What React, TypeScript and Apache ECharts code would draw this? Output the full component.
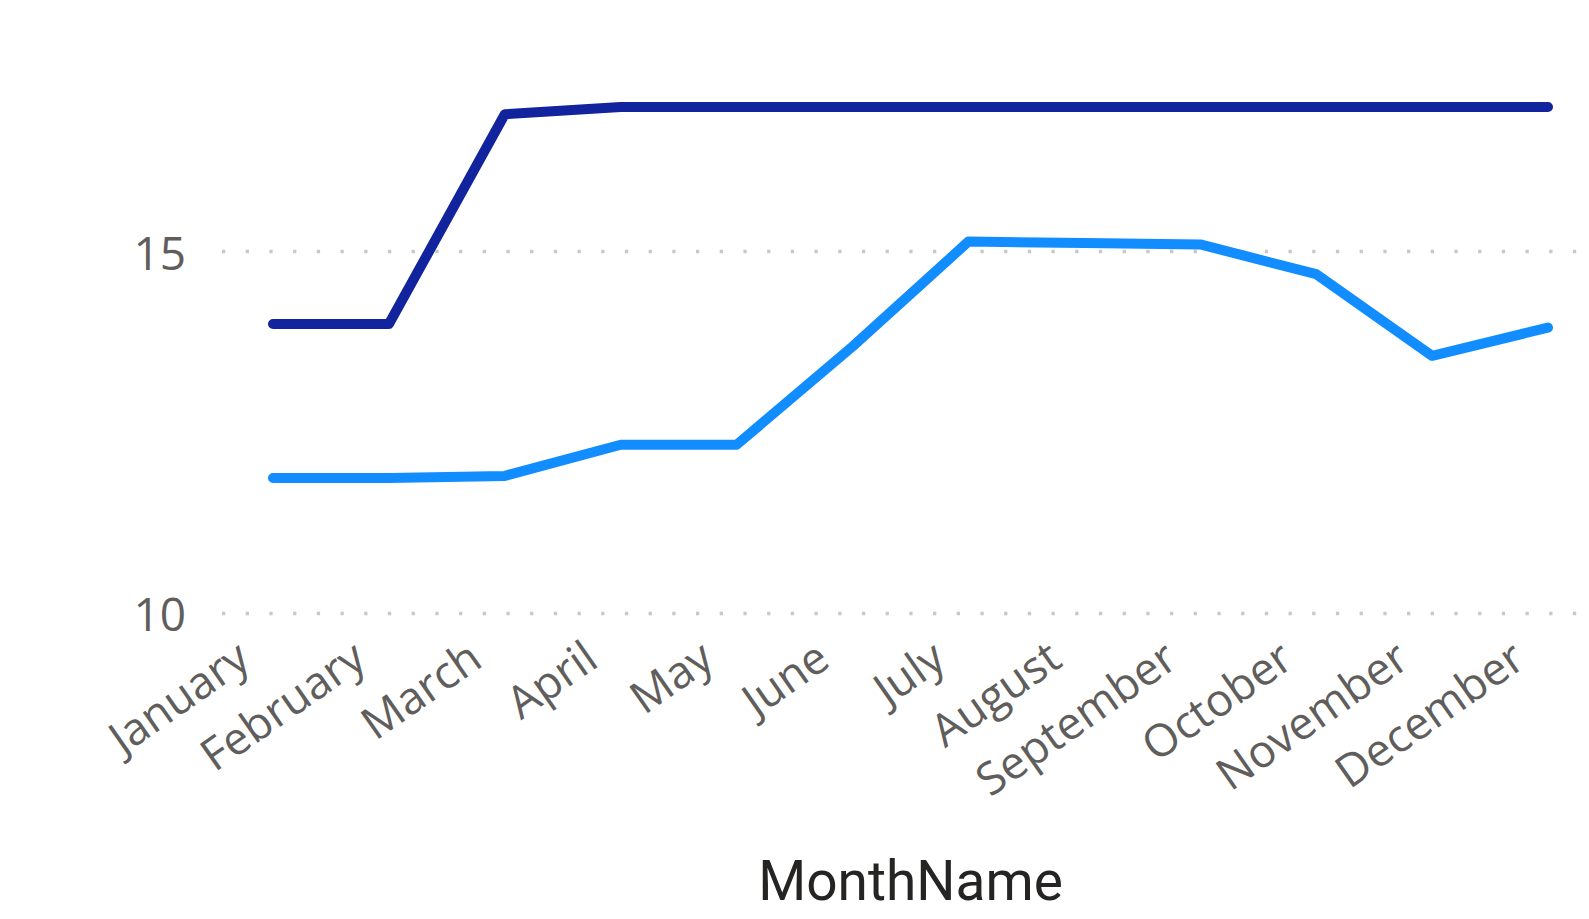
import React, { useEffect, useRef } from "react";
import * as echarts from "echarts";

const months = [
  "January", "February", "March", "April", "May", "June",
  "July", "August", "September", "October", "November", "December",
];
const seriesLight = [11.87, 11.87, 11.9, 12.33, 12.33, 13.69, 15.14, 15.12, 15.1, 14.69, 13.56, 13.95];
const seriesDark = [14.0, 14.0, 16.9, 17.0, 17.0, 17.0, 17.0, 17.0, 17.0, 17.0, 17.0, 17.0];
const yTickMin = 10;
const yTickMax = 15;
const yTickInterval = 5;
const yPlotMax = 18;
const axisTitle = "MonthName";

export default function App() {
  const ref = useRef<HTMLDivElement>(null);
  useEffect(() => {
    document.body.style.margin = "0";
    const chart = echarts.init(ref.current!, null, { renderer: "svg" });
    const bottom = 305.7;
    const pxPerUnit = 72.32;
    const gridTop0 = 919 - bottom - (yTickMax - yTickMin) * pxPerUnit;
    const gridTop1 = 919 - bottom - (yPlotMax - yTickMin) * pxPerUnit;
    chart.setOption({
      animation: false,
      backgroundColor: "#ffffff",
      grid: [
        { left: 222, right: 9, top: gridTop0, bottom, outerBoundsMode: "none", containLabel: false },
        { left: 273, right: 41, top: gridTop1, bottom, outerBoundsMode: "none", containLabel: false },
      ],
      xAxis: [
        { gridIndex: 0, type: "value", min: 0, max: 1, show: false },
        {
          gridIndex: 1,
          type: "category",
          data: months,
          boundaryGap: false,
          axisLine: { show: false },
          axisTick: { show: false },
          splitLine: { show: false },
          axisLabel: {
            rotate: 35,
            interval: 0,
            margin: 16,
            padding: [0, 37, 0, 0],
            fontFamily: "Open Sans",
            fontSize: 45,
            color: "#605E5C",
          },
          name: axisTitle,
          nameLocation: "middle",
          nameGap: 240,
          nameTextStyle: {
            fontFamily: "Roboto",
            fontSize: 55,
            color: "#252423",
          },
        },
      ],
      yAxis: [
        {
          gridIndex: 0,
          type: "value",
          min: yTickMin,
          max: yTickMax,
          interval: yTickInterval,
          axisLine: { show: false },
          axisTick: { show: false },
          axisLabel: {
            margin: 36,
            fontFamily: "Open Sans",
            fontSize: 46,
            color: "#605E5C",
          },
          splitLine: {
            show: true,
            lineStyle: { color: "#C8C8C8", width: 3.3, type: [3.3, 20.4] },
          },
        },
        {
          gridIndex: 1,
          type: "value",
          min: yTickMin,
          max: yPlotMax,
          show: false,
          splitLine: { show: false },
        },
      ],
      series: [
        {
          type: "line",
          name: "Light",
          xAxisIndex: 1,
          yAxisIndex: 1,
          data: seriesLight,
          showSymbol: false,
          symbol: "none",
          lineStyle: { color: "#118DFF", width: 10, cap: "round", join: "round" },
          z: 3,
        },
        {
          type: "line",
          name: "Dark",
          xAxisIndex: 1,
          yAxisIndex: 1,
          data: seriesDark,
          showSymbol: false,
          symbol: "none",
          lineStyle: { color: "#12239E", width: 10, cap: "round", join: "round" },
          z: 4,
        },
      ],
    });
    return () => chart.dispose();
  }, []);
  return <div ref={ref} style={{ width: 1589, height: 919 }} />;
}
